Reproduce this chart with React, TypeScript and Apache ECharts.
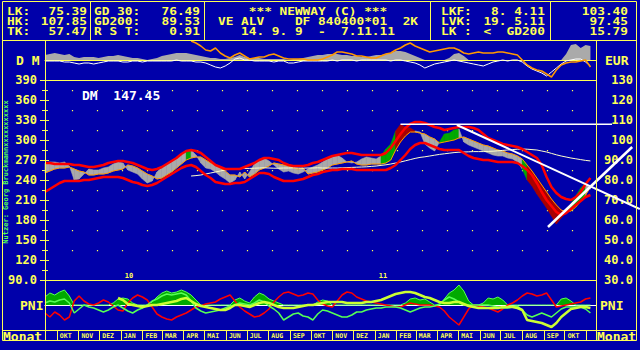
import React, { useEffect, useRef } from 'react';
import * as echarts from 'echarts';

// ---------- calendar ----------
const START_DATE = '2009-09-14';
const END_DATE = '2011-11-15';
const TREND_END_DATE = '2012-01-31';
const WEEK_DAYS = 7;
const MONTHS = ['JAN', 'FEB', 'MAR', 'APR', 'MAI', 'JUN', 'JUL', 'AUG', 'SEP', 'OKT', 'NOV', 'DEZ'];

// ---------- main price panel (EUR), weekly from 14.9.2009 ----------
const priceEUR = [
  88.5, 89.0, 89.0, 88.5, 89.0, 87.0, 80.0, 80.5, 83.0, 85.5,
  85.0, 85.0, 86.0, 86.5, 88.0, 89.0, 88.5, 85.0, 84.0, 83.0,
  80.5, 78.5, 79.5, 84.0, 86.5, 88.0, 89.5, 91.0, 93.0, 94.5,
  95.0, 92.5, 88.5, 86.0, 85.5, 84.0, 82.0, 80.5, 78.5, 80.0,
  84.0, 80.5, 84.0, 88.0, 90.0, 91.0, 89.5, 87.5, 85.5, 84.0,
  84.5, 83.5, 83.0, 84.0, 85.5, 86.5, 87.5, 89.0, 90.5, 91.5,
  92.5, 91.0, 89.0, 88.5, 89.0, 90.5, 91.5, 91.0, 90.5, 92.0,
  95.5, 98.0, 104.5, 107.8, 106.5, 106.0, 104.5, 104.0, 98.0, 96.0,
  94.5, 99.0, 103.0, 103.4, 105.0, 105.5, 99.0, 97.5, 96.5, 95.5,
  94.5, 93.5, 92.5, 92.0, 92.0, 91.0, 90.5, 89.0, 85.5, 80.0,
  77.0, 73.0, 69.5, 66.0, 62.0, 58.0, 61.0, 63.5, 68.0, 72.0,
  76.0, 78.5, 75.39,
];
const shortMA = [
  83.5, 84.5, 85.5, 86.0, 86.0, 86.5, 85.5, 84.5, 84.0, 82.5,
  82.5, 83.0, 83.0, 83.5, 84.5, 85.0, 85.5, 87.5, 87.0, 86.0,
  84.5, 83.0, 82.0, 80.5, 81.0, 82.5, 84.0, 86.0, 88.0, 90.0,
  91.0, 91.5, 91.5, 90.0, 88.5, 87.5, 86.0, 84.5, 82.5, 82.5,
  81.5, 84.0, 81.5, 83.0, 85.0, 86.0, 87.0, 88.5, 88.0, 87.5,
  87.0, 86.0, 85.5, 86.0, 83.0, 83.5, 84.0, 85.0, 86.0, 87.5,
  88.0, 88.5, 89.0, 89.5, 88.0, 87.5, 87.5, 88.0, 88.0, 88.0,
  88.5, 90.0, 95.0, 99.0, 102.0, 104.0, 104.0, 103.5, 103.0, 101.5,
  100.5, 98.5, 99.0, 99.5, 100.0, 101.0, 101.5, 100.5, 99.5, 98.5,
  97.5, 97.0, 96.0, 95.0, 94.5, 93.5, 93.0, 92.0, 90.5, 87.5,
  84.5, 81.0, 77.5, 74.0, 70.5, 67.5, 65.0, 64.0, 64.5, 66.5,
  69.5, 72.5, 76.49,
];
const upperBand = [
  88.5, 88.5, 88.0, 88.0, 88.0, 88.0, 87.5, 87.5, 87.0, 86.5,
  86.5, 87.0, 87.5, 88.5, 89.0, 89.5, 89.5, 89.0, 88.5, 87.5,
  86.5, 85.5, 85.0, 85.5, 86.5, 88.0, 89.5, 91.0, 93.0, 94.5,
  95.0, 94.5, 93.5, 91.5, 89.5, 87.5, 86.5, 85.5, 85.5, 85.5,
  85.5, 86.5, 87.5, 88.5, 90.0, 91.0, 91.0, 90.5, 90.0, 88.5,
  87.5, 87.0, 87.0, 87.0, 87.5, 88.5, 89.0, 90.0, 91.0, 92.0,
  92.5, 93.0, 93.5, 93.5, 93.0, 92.5, 92.5, 92.5, 92.5, 92.5,
  93.5, 96.0, 99.5, 103.0, 106.0, 108.0, 109.0, 109.0, 108.5, 107.5,
  106.5, 106.0, 105.0, 105.5, 106.0, 106.5, 106.5, 106.5, 106.0, 105.0,
  103.0, 101.0, 100.0, 99.0, 98.0, 97.5, 97.0, 96.5, 95.5, 94.0,
  92.5, 91.0, 87.5, 81.5, 76.5, 73.5, 71.5, 70.5, 70.0, 71.5,
  74.0, 78.0, 81.0,
];
const lowerBand = [
  74.0, 75.5, 77.0, 78.5, 79.5, 79.5, 79.5, 79.5, 80.0, 80.0,
  80.5, 81.0, 81.5, 81.5, 81.5, 81.5, 81.0, 80.0, 79.0, 78.5,
  77.5, 77.0, 77.5, 78.5, 80.0, 81.5, 83.0, 84.5, 86.0, 87.0,
  87.5, 86.5, 84.5, 82.5, 81.0, 79.0, 78.5, 78.0, 78.0, 78.5,
  78.5, 79.0, 80.5, 82.0, 83.5, 83.5, 83.0, 81.5, 80.5, 79.5,
  79.5, 79.5, 80.0, 80.5, 81.5, 82.5, 83.0, 84.0, 84.5, 85.0,
  85.0, 85.5, 85.5, 85.5, 85.0, 85.0, 85.0, 85.0, 85.0, 85.0,
  85.0, 86.0, 87.5, 90.0, 92.5, 95.5, 97.5, 98.5, 98.5, 97.5,
  96.5, 95.5, 95.0, 95.0, 95.0, 95.0, 93.5, 92.0, 91.0, 90.5,
  90.0, 90.0, 89.5, 89.0, 89.0, 89.0, 89.0, 88.5, 87.0, 85.0,
  82.5, 78.5, 74.0, 70.0, 67.0, 64.0, 62.5, 63.5, 65.5, 67.5,
  69.5, 71.5, 72.5,
];
const GD200_FIRST_WEEK = 30;
const gd200 = [
  82.0, 82.2, 82.5, 83.0, 83.5, 84.0, 84.5, 85.0, 85.5, 85.6,
  85.7, 85.8, 85.8, 85.9, 86.0, 86.1, 86.0, 85.9, 85.9, 86.0,
  86.0, 86.1, 86.0, 85.9, 86.0, 86.0, 86.1, 86.0, 86.0, 86.0,
  86.0, 86.1, 86.2, 86.3, 86.4, 86.5, 86.6, 86.8, 87.0, 87.3,
  87.6, 88.0, 88.5, 89.0, 89.6, 90.2, 90.8, 91.3, 91.6, 92.0,
  92.4, 92.8, 93.1, 93.4, 93.7, 93.9, 94.0, 94.1, 94.2, 94.2,
  94.2, 94.3, 94.4, 94.6, 94.8, 95.0, 95.2, 95.4, 95.5, 95.4,
  95.2, 95.0, 94.5, 94.0, 93.3, 92.6, 92.0, 91.5, 91.0, 90.6,
  90.2, 89.8, 89.53,
];
// colour state of the price / average band: [from date, state]
const bandSegments: [string, string][] = [
  ['2009-09-14', 'neutral'], ['2010-04-03', 'buy'], ['2010-04-12', 'neutral'],
  ['2011-01-12', 'buy'], ['2011-02-01', 'sell'], ['2011-02-27', 'neutral'],
  ['2011-04-04', 'buy'], ['2011-04-22', 'neutral'], ['2011-04-26', 'buy'],
  ['2011-05-03', 'neutral'], ['2011-07-31', 'buy'], ['2011-08-08', 'sell'],
  ['2011-10-06', 'buy'], ['2011-10-31', 'neutral'],
];
// trend lines: [date, EUR]
const resistanceLine: [string, number][] = [['2011-02-07', 107.85], ['2011-12-08', 107.85]];
const downTrendLine: [string, number][] = [['2011-04-29', 107.5], ['2012-01-17', 65.5]];
const upTrendLine: [string, number][] = [['2011-09-07', 56.5], ['2012-01-06', 96.5]];

// ---------- top "D M" panel ----------
const dmStrength = [
  5, 6, 7, 6, 5, 6, 3, 2, 3, 3, 3, 2, 3, 4, 4, 5, 4, 3, 2, 2,
  1, 0, 1, 2, 4, 5, 6, 7, 7, 7, 6, 5, 4, 3, 2, 2, 1, 1, 2, 3,
  5, 3, 2, 2, 2, 1, 1, 1, 1, 1, 0, 1, 1, 2, 3, 4, 5, 5, 6, 6,
  6, 5, 5, 4, 4, 3, 3, 4, 5, 5, 6, 7, 9, 9, 8, 6, 4, 2, 0, 0,
  0, 0, 0, 2, 6, 7, 4, 0, 0, 0, 0, 0, 0, 0, 0, 0, 0, 0, 0, 0,
  0, 0, 0, 0, 0, 0, 0, 6, 15, 16, 12, 15, 14,
];
const dmWhite = [
  -1, -1, -1, -1, -2, -2, -3, -4, -3, -3, -4, -3, -2, -1, -1, -1, -2, -2, -1, -1,
  -2, -1, -1, -1, -1, -1, -1, 0, -1, -1, -1, -2, -2, -3, -5, -7, -8, -6, -3, 1,
  2, 0, 0, -1, -1, -1, -1, -2, -1, -1, -3, -3, -2, -1, -1, -1, -1, -1, -1, 0,
  -1, 0, 0, 0, -1, 0, 0, 0, 0, 0, 0, -1, 0, 0, -1, -2, -3, -5, -8, -6,
  -4, -3, -2, -1, 0, -1, -2, -3, -4, -5, -6, -4, -2, -1, 0, -1, 0, 0, -2, -6,
  -9, -11, -13, -16, -12, -8, -4, -1, 0, 1, 1, -2, -6,
];
const DM_ORANGE_FIRST_WEEK = 30;
const dmOrange = [
  19, 17, 14, 10, 9, 12, 7, 4, 2, 5, 7, 4, 1, 2, 3, 3, 5, 6, 4, 2,
  1, 1, 1, 1, 0, 0, 0, 1, 3, 5, 8, 8, 7, 6, 4, 4, 3, 2, 2, 4,
  6, 7, 10, 12, 15, 17, 14, 12, 10, 8, 9, 10, 11, 12, 12, 10, 7, 6, 7, 8,
  7, 7, 7, 8, 8, 7, 6, 5, 0, -5, -8, -10, -11, -14, -17, -10, -5, -3, -2, -2,
  -1, 0, -7,
];

// ---------- PNI panel ----------
const pniArea = [
  8, 12, 10, 13, 15, 9, 0, 0, 0, 0, 0, 0, 0, 0, 2, 6, 7, 6, 2, 0,
  0, 0, 3, 8, 12, 14, 12, 13, 15, 13, 10, 5, 0, 0, 0, 0, 0, 0, 0, 5,
  7, 4, 2, 8, 12, 10, 6, 4, 2, 0, 0, 0, 0, 0, 0, 0, 3, 5, 4, 0,
  0, 0, 0, 0, 0, 0, 0, 0, 0, 0, 0, 0, 0, 0, 2, 6, 7, 5, 6, 3,
  0, 0, 6, 12, 15, 20, 14, 4, 0, 0, 2, 7, 6, 8, 5, 0, 0, 0, 0, 0,
  0, 0, 0, 0, 0, 0, 6, 7, 4, 0, 0, 0, 0,
];
const pniRed = [
  -8, -12, -7, -10, -15, -12, 4, 9, 4, 1, 0, 2, 5, 3, -1, -5, -6, 2, 7, 10,
  8, 5, -2, -9, -12, -14, -15, -12, -10, -8, -5, -2, -1, 1, 2, 3, 6, 8, 10, 4,
  -2, -6, -9, -12, -11, -8, -4, 3, 8, 12, 13, 11, 9, 10, 12, 11, 5, 1, -1, -2,
  4, 10, 13, 12, 8, 6, 4, 3, 2, 1, 0, -1, -2, -2, 0, 2, 1, 0, 0, 0,
  -1, -2, -6, -12, -16, -20, -12, -4, 0, -1, -2, -3, -5, -7, -4, 0, 2, 5, 9, 12,
  11, 9, 10, 12, 5, -2, -1, 0, 1, 2, 3, 6, 7,
];
const pniGreen = [
  2, 4, 3, 5, 6, 2, -8, -4, 0, -2, -3, -5, -7, -5, -2, 0, -3, -6, -8, -5,
  -3, 0, 4, 6, 9, 11, 10, 11, 12, 10, 4, -3, -6, -8, -7, -6, -5, -3, -1, 0,
  2, 1, 0, 2, 5, 3, -1, -4, -8, -15, -12, -9, -8, -11, -12, -15, -9, -5, -6, -8,
  -10, -12, -12, -10, -7, -7, -5, -4, -3, -3, -2, -2, -2, -3, -5, -7, -5, -3, -2, -2,
  -1, 1, 5, 8, 6, 3, 0, 0, 0, 0, 0, 0, -1, -2, -3, -3, -2, -1, -5, -10,
  -12, -10, -8, -10, -12, -8, -4, -2, -2, -2, -2, -4, -8,
];
const PNI_LIME_FIRST_WEEK = 15;
const pniLime = [
  7, 5, 1, 0, -1,
  -2, -1, 0, 0, 1, 2, 3, 4, 6, 7,
  4, 1, -1, -2, -3, -4, -5, -5, -3, 0,
  0, -1, -2, 0, 2, 3, 2, 0, -2, -3,
  -3, -3, -2, -1, 0, 0, 1, 2, 3, 3,
  3, 3, 2, 2, 2, 2, 3, 3, 4, 5,
  7, 9, 11, 12, 13, 13, 12, 10, 8, 7,
  5, 3, 2, 2, 3, 3, 1, -1, -2, -3,
  -3, -3, -3, -3, -2, -2, -2, -3, -5, -15,
  -16, -17, -18, -20, -22, -18, -12, -8, -4, -3,
  -2, -2, -3,
];

// ---------- header texts ----------
const headerLeft = [['LK:', '75.39'], ['HK:', '107.85'], ['TK:', '57.47']];
const headerAvg = [['GD 30:', '76.49'], ['GD200:', '89.53'], ['R S T:', '0.91']];
const headerTitle = ['*** NEWWAY (C) ***', 'VE ALV    DF 840400*01  2K', '14. 9. 9  -  7.11.11'];
const headerSignals = [['LKF:', '8. 4.11'], ['LVK:', '19. 5.11'], ['LK :', '<  GD200']];
const headerRight = ['103.40', '97.45', '15.79'];

// ---------- colours ----------
const BG = '#0000aa';
const YEL = '#ffff55';
const GREY = '#aaaaaa';
const DRED = '#aa0000';
const GREEN = '#00aa00';
const LGREEN = '#55ff55';
const RED = '#ff0000';
const ORANGE = '#ff9900';
const LIME = '#ccff33';
const CREAM = '#ffffcc';
const MONO = '"DejaVu Sans Mono", monospace';
const stateColor: Record<string, string> = { neutral: GREY, buy: GREEN, sell: DRED };

const DAY_MS = 86400000;
const t0 = Date.parse(START_DATE + 'T00:00:00Z');
const toDay = (d: string) => Math.round((Date.parse(d + 'T00:00:00Z') - t0) / DAY_MS);
const TOTAL_DAYS = toDay(END_DATE);
const TREND_DAYS = toDay(TREND_END_DATE);
const dayLabels: string[] = [];
for (let i = 0; i <= TOTAL_DAYS; i++) dayLabels.push(new Date(t0 + i * DAY_MS).toISOString().slice(0, 10));
const weekly = (vals: number[], first = 0) => vals.map((v, k) => [(first + k) * WEEK_DAYS, v]);
const trend = (pts: [string, number][]) => pts.map(([d, v]) => [toDay(d), v]);
const isMonthStart = (_i: number, v: string) => v.slice(8) === '01';
const isMonthLabel = (i: number, v: string) => v.slice(8) === '01' && i <= TOTAL_DAYS - 20;
const isYearStart = (_i: number, v: string) => v.slice(5) === '01-01';
const numFmt = (v: number) => (v < 100 ? v.toFixed(1) : String(v));

const GRID_LEFT = 45;
const GRID_W = 551;

function stateAt(day: number) {
  let s = bandSegments[0][1];
  for (const [d, st] of bandSegments) if (toDay(d) <= day) s = st;
  return s;
}

function buildOption(): any {
  const bandData = priceEUR.slice(0, -1).map((p, i) => [
    i * WEEK_DAYS, p, shortMA[i], (i + 1) * WEEK_DAYS, priceEUR[i + 1], shortMA[i + 1],
  ]);
  const bandColors = bandData.map((d) => stateColor[stateAt((d[0] + d[3]) / 2)]);

  const txt = (text: string, x: number, y: number, align: string, opts: any = {}) => ({
    type: 'text', x, y, z: 100,
    scaleX: opts.sx || 1,
    rotation: opts.rotation || 0,
    style: {
      text, fill: opts.fill || YEL, fontFamily: MONO, fontWeight: 'bold',
      fontSize: opts.size || 13, align, verticalAlign: 'middle',
    },
  });
  const hdr = (text: string, x: number, y: number, align: string) =>
    txt(text, x, y, align, { size: 10, sx: 1.28 });
  const ln = (x1: number, y1: number, x2: number, y2: number) => ({
    type: 'line', z: 100, shape: { x1, y1, x2, y2 }, style: { stroke: YEL, lineWidth: 1 },
  });

  const rows = [12, 22, 32];
  const graphics: any[] = [
    { type: 'rect', z: 100, shape: { x: 2.5, y: 1.5, width: 634, height: 339 }, style: { fill: 'none', stroke: YEL, lineWidth: 1 } },
    ln(2, 40.5, 637, 40.5),
    ln(90.5, 1, 90.5, 40), ln(204.5, 1, 204.5, 40), ln(430.5, 1, 430.5, 40), ln(550.5, 1, 550.5, 40),
    ln(45.5, 40, 45.5, 340), ln(596.5, 40, 596.5, 340),
    ln(45, 80.5, 597, 80.5), ln(45, 280.5, 597, 280.5),
    ln(2, 330.5, 637, 330.5),
  ];
  rows.forEach((y, r) => {
    graphics.push(hdr(headerLeft[r][0], 7, y, 'left'), hdr(headerLeft[r][1], 87, y, 'right'));
    graphics.push(hdr(headerAvg[r][0], 94, y, 'left'), hdr(headerAvg[r][1], 200, y, 'right'));
    graphics.push(hdr(headerTitle[r], 318, y, 'center'));
    graphics.push(hdr(headerSignals[r][0], 441, y, 'left'), hdr(headerSignals[r][1], 545, y, 'right'));
    graphics.push(hdr(headerRight[r], 628, y, 'right'));
  });
  graphics.push(
    txt('D M', 16, 60, 'left'), txt('EUR', 605, 60, 'left'),
    txt('DM  ' + (priceEUR[priceEUR.length - 1] * 1.95583).toFixed(2), 82, 95, 'left', { fill: '#ffffff' }),
    txt('PNI', 20, 305, 'left'), txt('PNI', 600, 305, 'left'),
    txt('Monat', 3, 336, 'left'), txt('Monat', 597, 336, 'left'),
    txt('Nutzer: Georg Bruckmannxxxxxxxxxxx', 6, 172, 'center', { fill: LGREEN, size: 7, rotation: Math.PI / 2 }),
  );

  const hiddenX = (gridIndex: number, max: number, lineColor?: string) => ({
    type: 'value', gridIndex, min: 0, max,
    axisLine: lineColor ? { show: true, onZero: true, lineStyle: { color: lineColor, width: 1 } } : { show: false },
    axisTick: { show: false }, axisLabel: { show: false }, splitLine: { show: false },
  });
  const line = (name: string, xi: number, yi: number, data: any[], color: string, width: number, extra: any = {}) => ({
    name, type: 'line', xAxisIndex: xi, yAxisIndex: yi, data, symbol: 'none', showSymbol: false,
    lineStyle: { color, width }, itemStyle: { color }, silent: true, ...extra,
  });

  return {
    animation: false,
    backgroundColor: BG,
    textStyle: { fontFamily: MONO },
    grid: [
      { left: GRID_LEFT, top: 40, width: GRID_W, height: 40, outerBoundsMode: 'none' },
      { left: GRID_LEFT, top: 80, width: GRID_W, height: 200, outerBoundsMode: 'none' },
      { left: GRID_LEFT, top: 280, width: GRID_W, height: 50, outerBoundsMode: 'none' },
      { left: 72, top: 90, width: 500, height: 180, outerBoundsMode: 'none' },
      { left: GRID_LEFT, top: 330, width: GRID_W, height: 10, outerBoundsMode: 'none' },
      { left: GRID_LEFT, top: 80, width: (GRID_W * TREND_DAYS) / TOTAL_DAYS, height: 200, outerBoundsMode: 'none' },
    ],
    xAxis: [
      hiddenX(0, TOTAL_DAYS, YEL),
      hiddenX(1, TOTAL_DAYS),
      {
        type: 'category', gridIndex: 1, data: dayLabels, boundaryGap: false, position: 'bottom',
        axisLine: { show: false }, axisTick: { show: false }, splitLine: { show: false },
        axisLabel: {
          show: true, interval: isYearStart, inside: true, margin: 1, color: YEL, fontSize: 7,
          fontWeight: 'bold', fontFamily: MONO, align: 'left', verticalAlign: 'bottom', padding: [0, 0, 0, 4],
          formatter: (v: string) => v.slice(2, 4),
        },
      },
      hiddenX(2, TOTAL_DAYS, '#ffffff'),
      {
        type: 'value', gridIndex: 3, min: 0, max: 500, interval: 25,
        axisLine: { show: false }, axisTick: { show: false }, axisLabel: { show: false },
        splitLine: { show: true, lineStyle: { color: YEL, width: 1.2, type: [1.2, 18.8] } },
      },
      {
        type: 'category', gridIndex: 4, data: dayLabels, boundaryGap: false, position: 'bottom',
        axisLine: { show: false }, axisTick: { show: false },
        splitLine: { show: true, interval: isMonthStart, lineStyle: { color: YEL, width: 1 } },
        axisLabel: {
          show: true, interval: isMonthLabel, inside: true, margin: 1, color: YEL, fontSize: 6.5,
          fontWeight: 'bold', fontFamily: MONO, align: 'left', verticalAlign: 'bottom', padding: [0, 0, 0, 3],
          formatter: (v: string) => MONTHS[Number(v.slice(5, 7)) - 1],
        },
      },
      hiddenX(5, TREND_DAYS),
    ],
    yAxis: [
      { type: 'value', gridIndex: 0, min: -20, max: 20, show: false },
      {
        type: 'value', gridIndex: 1, position: 'right', min: 30, max: 130, interval: 10,
        axisLine: { show: false },
        axisTick: { show: true, length: 4, lineStyle: { color: YEL } },
        minorTick: { show: true, splitNumber: 2, length: 3, lineStyle: { color: YEL } },
        splitLine: { show: false },
        axisLabel: {
          color: YEL, fontFamily: MONO, fontWeight: 'bold', fontSize: 12, align: 'right', margin: 37,
          showMinLabel: true, showMaxLabel: true, formatter: numFmt,
        },
      },
      {
        type: 'value', gridIndex: 1, position: 'left', min: 90, max: 390, interval: 30,
        axisLine: { show: false },
        axisTick: { show: true, length: 5, lineStyle: { color: YEL } },
        minorTick: { show: true, splitNumber: 2, length: 3, lineStyle: { color: YEL } },
        splitLine: { show: false },
        axisLabel: {
          color: YEL, fontFamily: MONO, fontWeight: 'bold', fontSize: 12, margin: 8,
          showMinLabel: true, showMaxLabel: true, formatter: numFmt,
        },
      },
      { type: 'value', gridIndex: 2, min: -25, max: 25, show: false },
      { type: 'value', gridIndex: 3, min: 0, max: 1, show: false },
      { type: 'value', gridIndex: 4, min: 0, max: 1, show: false },
      { type: 'value', gridIndex: 5, min: 30, max: 130, show: false },
    ],
    series: [
      // D M panel
      line('dmStrength', 0, 0, weekly(dmStrength), GREY, 0, { areaStyle: { color: GREY, opacity: 1 }, z: 2 }),
      line('dmWhite', 0, 0, weekly(dmWhite), '#ffffff', 1, { z: 3 }),
      line('dmOrange', 0, 0, weekly(dmOrange, DM_ORANGE_FIRST_WEEK), ORANGE, 1.5, { z: 4 }),
      // band between price and short average, coloured by signal state
      {
        name: 'band', type: 'custom', xAxisIndex: 1, yAxisIndex: 1, z: 2, silent: true,
        data: bandData,
        encode: { x: [0, 3], y: [1, 2, 4, 5] },
        renderItem: (params: any, api: any) => {
          const p0 = api.coord([api.value(0), api.value(1)]);
          const m0 = api.coord([api.value(0), api.value(2)]);
          const p1 = api.coord([api.value(3), api.value(4)]);
          const m1 = api.coord([api.value(3), api.value(5)]);
          const c = bandColors[params.dataIndex];
          return {
            type: 'polygon',
            shape: { points: [p0, p1, m1, m0] },
            style: { fill: c, stroke: c, lineWidth: 0.6 },
          };
        },
      },
      line('GD30', 1, 1, weekly(shortMA), ORANGE, 1, { z: 3 }),
      line('GD200', 1, 1, weekly(gd200, GD200_FIRST_WEEK), CREAM, 1, { z: 3 }),
      line('upper', 1, 1, weekly(upperBand), RED, 2.5, { z: 4 }),
      line('lower', 1, 1, weekly(lowerBand), RED, 2.5, { z: 4 }),
      // trend lines (own wider grid so they run past the last date)
      line('resistance', 6, 6, trend(resistanceLine), '#ffffff', 1.5, { z: 6 }),
      line('downTrend', 6, 6, trend(downTrendLine), '#ffffff', 2, { z: 6 }),
      line('upTrend', 6, 6, trend(upTrendLine), '#ffffff', 2.5, { z: 6 }),
      // PNI
      line('pniArea', 3, 3, weekly(pniArea), LGREEN, 1, { areaStyle: { color: GREEN, opacity: 1 }, z: 2 }),
      line('pniRed', 3, 3, weekly(pniRed), RED, 1.5, { z: 3 }),
      line('pniGreen', 3, 3, weekly(pniGreen), LGREEN, 1.5, { z: 3 }),
      line('pniLime', 3, 3, weekly(pniLime, PNI_LIME_FIRST_WEEK), LIME, 2.5, { z: 4 }),
    ],
    graphic: { elements: graphics },
  };
}

export default function App() {
  const ref = useRef<HTMLDivElement>(null);
  useEffect(() => {
    document.body.style.margin = '0';
    document.body.style.background = BG;
    const chart = echarts.init(ref.current!, null, { renderer: 'svg' });
    chart.setOption(buildOption());
    return () => chart.dispose();
  }, []);
  return <div ref={ref} style={{ position: 'absolute', left: 0, top: 0, width: 640, height: 350 }} />;
}
